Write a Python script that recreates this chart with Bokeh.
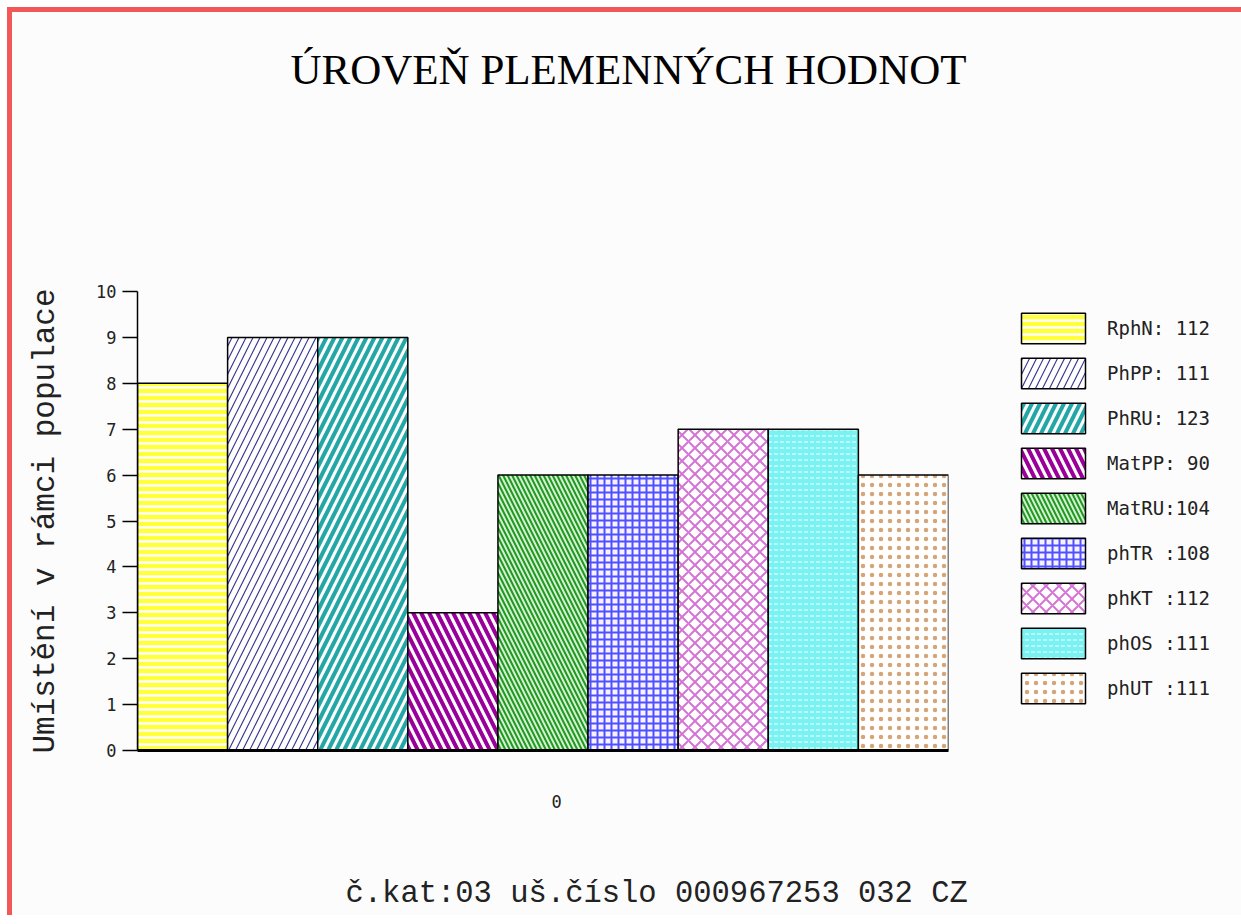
from bokeh.plotting import figure
from bokeh.models import (ColumnDataSource, Legend, LegendItem, Title, FixedTicker,
                          SingleIntervalTicker, Range1d, LinearAxis)
from bokeh.embed import file_html
from bokeh.resources import INLINE

# ---- data -------------------------------------------------------------
title_text = "ÚROVEŇ PLEMENNÝCH HODNOT"
footer_text = "č.kat:03 uš.číslo 000967253 032 CZ"
y_label = "Umístění v rámci populace"
group_label = "0"
traits = ["RphN", "PhPP", "PhRU", "MatPP", "MatRU", "phTR", "phKT", "phOS", "phUT"]
legend_labels = ["RphN: 112", "PhPP: 111", "PhRU: 123", "MatPP: 90", "MatRU:104",
                 "phTR :108", "phKT :112", "phOS :111", "phUT :111"]
ranks = [8, 9, 9, 3, 6, 6, 7, 7, 6]

# ---- styles -----------------------------------------------------------
fill_colors = ["#ffff3c", "#ffffff", "#ffffff", "#ffffff", "#d4eed4",
               "#f6f2ff", "#ffffff", "#78f2f2", "#ffffff"]
hatch_patterns = ["-", "/", "/", "\\", "\\", "+", "x", '"', "."]
hatch_colors = ["#ffffff", "#3a3a90", "#22a6a6", "#990099", "#1f9a1f",
                "#5050ff", "#d474d4", "#ffffff", "#d6a577"]
hatch_weights = [2.5, 1.2, 4, 4, 2, 2, 2, 1, 0.5]
hatch_scales = [7, 14, 16, 16, 9, 7, 13, 6, 9]

src = ColumnDataSource(dict(
    x=[i + 0.5 for i in range(len(traits))],
    top=ranks,
    trait=traits,
    fill_color=fill_colors,
    hatch_pattern=hatch_patterns,
    hatch_color=hatch_colors,
    hatch_weight=hatch_weights,
    hatch_scale=hatch_scales,
))

BG = "#fcfcfc"
p = figure(frame_width=811, frame_height=459,
           x_range=Range1d(0, len(traits)), y_range=Range1d(0, 10),
           output_backend="svg", toolbar_location=None,
           min_border_left=125, min_border_right=0,
           min_border_top=279, min_border_bottom=160,
           background_fill_color=BG, border_fill_color=BG,
           outline_line_color=None)
p.styles = {"border-top": "5px solid #f25858", "border-left": "5px solid #f25858",
            "margin-top": "7px", "margin-left": "7px"}

p.xgrid.visible = False
p.ygrid.visible = False

r = p.vbar(x="x", top="top", bottom=0, width=1, source=src,
           fill_color="fill_color", hatch_pattern="hatch_pattern",
           hatch_color="hatch_color", hatch_weight="hatch_weight",
           hatch_scale="hatch_scale", line_color="black", line_width=1.5)

# x axis
xax = p.xaxis[0]
xax.ticker = FixedTicker(ticks=[4.65])
xax.major_label_overrides = {4.65: group_label}
xax.axis_line_width = 3
xax.axis_line_color = "black"
xax.major_tick_line_color = None
xax.minor_tick_line_color = None
xax.major_label_standoff = 38
xax.major_label_text_font = "DejaVu Sans Mono"
xax.major_label_text_font_size = "17px"
xax.major_label_text_color = "#222222"

# y axis
yax = p.yaxis[0]
yax.ticker = SingleIntervalTicker(interval=1, num_minor_ticks=0)
yax.axis_line_width = 1.5
yax.axis_line_color = "black"
yax.major_tick_line_width = 1.5
yax.major_tick_line_color = "black"
yax.major_tick_out = 15
yax.major_tick_in = 0
yax.minor_tick_line_color = None
yax.major_label_standoff = 6
yax.major_label_text_font = "DejaVu Sans Mono"
yax.major_label_text_font_size = "17px"
yax.major_label_text_color = "#222222"
yax.axis_label = y_label
yax.axis_label_text_font = "Liberation Mono"
yax.axis_label_text_font_style = "normal"
yax.axis_label_text_font_size = "31px"
yax.axis_label_text_color = "#222222"
yax.axis_label_standoff = 30

# legend (right panel)
items = [LegendItem(label=lab, renderers=[r], index=i) for i, lab in enumerate(legend_labels)]
legend = Legend(items=items, location=(65, 43), glyph_width=80, glyph_height=38,
                spacing=7, padding=0, margin=0, label_standoff=14,
                border_line_color=None, background_fill_alpha=0,
                label_text_font="DejaVu Sans Mono", label_text_font_size="19px",
                label_text_color="#222222")
p.add_layout(legend, "right")


def spacer(size):
    # an empty axis whose (background-coloured) tick only reserves vertical room
    return LinearAxis(ticker=FixedTicker(ticks=[0.05]), axis_line_color=None,
                      major_tick_out=size, major_tick_in=0,
                      major_tick_line_color=BG, major_tick_line_width=0.5,
                      minor_tick_line_color=None,
                      major_label_text_color=None, major_label_text_font_size="1px",
                      major_label_standoff=0)


# title (above, separated from the frame by an empty spacer)
p.add_layout(spacer(194), "above")
p.add_layout(Title(text=title_text, align="left", offset=153,
                   text_font="Liberation Serif", text_font_size="43px",
                   text_font_style="normal", text_color="black"), "above")

# footer (below the x axis, separated by an empty spacer)
p.add_layout(spacer(59), "below")
p.add_layout(Title(text=footer_text, align="left", offset=208,
                   text_font="Liberation Mono", text_font_size="30.5px",
                   text_font_style="normal", text_color="#222222"), "below")

open("out.html", "w").write(file_html(p, INLINE))
